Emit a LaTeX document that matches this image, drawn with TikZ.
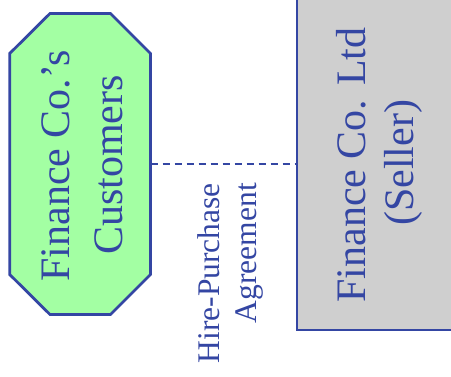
\documentclass[tikz,border=0pt]{standalone}
\usepackage{fontspec}
\setmainfont{Liberation Serif}
\definecolor{inkblue}{RGB}{52,70,163}
\definecolor{custgreen}{RGB}{163,255,163}
\definecolor{sellergray}{RGB}{207,207,207}
\begin{document}
\begin{tikzpicture}[x=1pt,y=-1pt,
  boxline/.style={draw=inkblue, line width=2.8pt, inner sep=0pt, line join=miter},
  bigtext/.style={text=inkblue, font=\fontsize{42}{50}\selectfont, rotate=90, anchor=base, inner sep=0pt},
  smalltext/.style={text=inkblue, font=\fontsize{31.5}{37}\selectfont, rotate=90, anchor=base east, inner sep=0pt},
  agreement/.style={draw=inkblue, line width=2.5pt, dash pattern=on 7pt off 5pt}]
\useasboundingbox (0,0) rectangle (451,377);
\clip (0,0) rectangle (451,377);
% the customers: an octagon with cut corners
\draw[boxline, fill=custgreen]
  (9.7,53.5) -- (50,13.5) -- (110.5,13.5) -- (150.5,53.5) --
  (150.5,274.5) -- (110.5,314.5) -- (50,314.5) -- (9.7,274.5) -- cycle;
\coordinate (cust) at (150.5,164);
% the seller
\node[boxline, fill=sellergray, rectangle,
      minimum width=170pt, minimum height=350pt] (seller) at (382,155) {};
% labels, set sideways
\node[bigtext] (custA) at (70,166) {Finance Co.’s};
\node[bigtext] (custB) at (122,165) {Customers};
\node[bigtext] (sellA) at (365,165) {Finance Co. Ltd};
\node[bigtext] (sellB) at (413,163) {(Seller)};
\node[smalltext] (hpA) at (219,183) {Hire-Purchase};
\node[smalltext] (hpB) at (256,183) {Agreement};
% the agreement linking them
\draw[agreement] (cust) -- (cust -| seller.west);
\end{tikzpicture}
\end{document}
